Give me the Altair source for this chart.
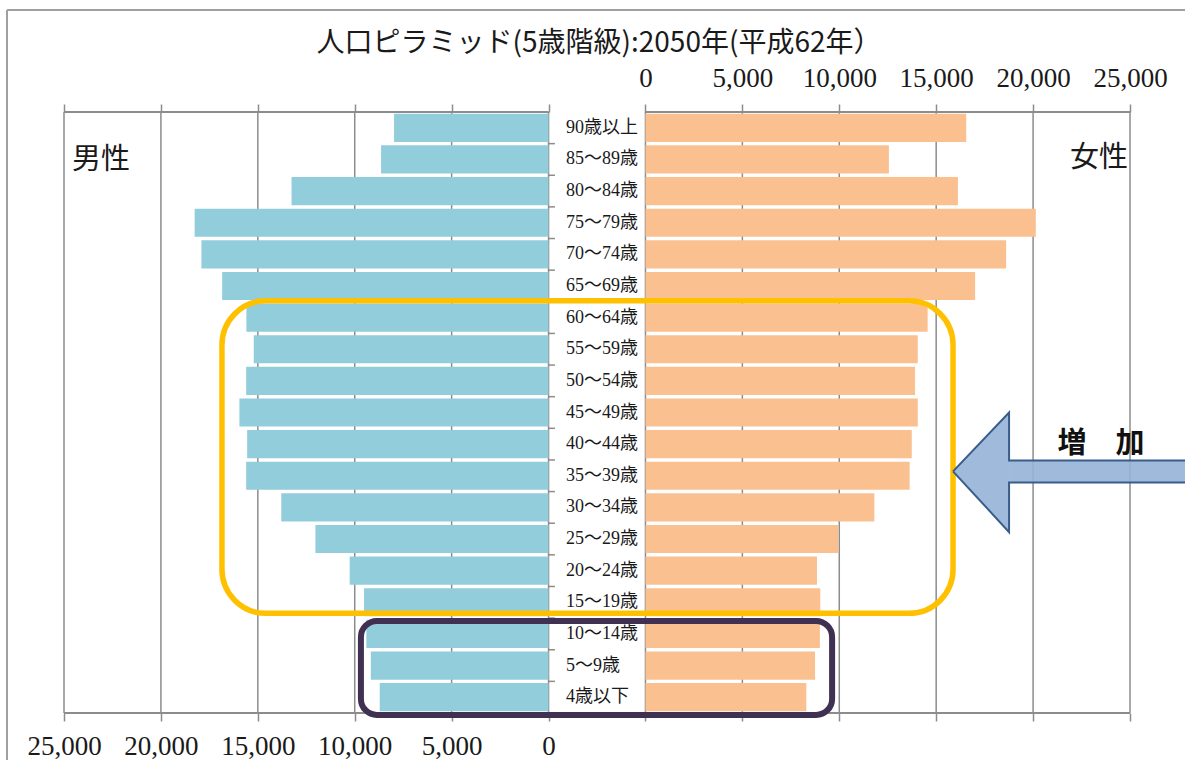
import altair as alt
import pandas as pd

# Age groups, top of the pyramid first
ages = [
    "90歳以上", "85～89歳", "80～84歳", "75～79歳", "70～74歳", "65～69歳",
    "60～64歳", "55～59歳", "50～54歳", "45～49歳", "40～44歳", "35～39歳",
    "30～34歳", "25～29歳", "20～24歳", "15～19歳", "10～14歳", "5～9歳", "4歳以下",
]
male = [7970, 8640, 13260, 18260, 17910, 16840, 15590, 15210, 15600, 15950,
        15550, 15600, 13790, 12030, 10260, 9520, 9400, 9170, 8710]
female = [16550, 12560, 16120, 20140, 18610, 17010, 14560, 14050, 13910, 14050,
          13740, 13630, 11810, 9950, 8850, 9020, 9000, 8750, 8300]
tick_values = [0, 5000, 10000, 15000, 20000, 25000]

TITLE = "人口ピラミッド(5歳階級):2050年(平成62年）"

# One shared x scale: men run left from 0, women run right from GAP,
# the centre column (GAP wide) holds the age labels.
GAP = 5000
N = len(ages)
X_MIN, X_MAX = -max(tick_values), GAP + max(tick_values)
BAR_PAD = 0.055
LABEL_X = 900

xs = alt.Scale(domain=[X_MIN, X_MAX], nice=False, zero=False)
ys = alt.Scale(domain=[0, N], nice=False, zero=False, reverse=True)


def X(field="x", **kw):
    return alt.X(f"{field}:Q", scale=xs, **({"axis": None} | kw))


def Y(field="y"):
    return alt.Y(f"{field}:Q", scale=ys, axis=None, stack=None)


bars = pd.DataFrame(
    [{"age": a, "sex": "男性", "x": -m, "x2": 0, "y": i + BAR_PAD, "y2": i + 1 - BAR_PAD}
     for i, (a, m) in enumerate(zip(ages, male))]
    + [{"age": a, "sex": "女性", "x": GAP, "x2": GAP + f, "y": i + BAR_PAD, "y2": i + 1 - BAR_PAD}
       for i, (a, f) in enumerate(zip(ages, female))]
)
labels = pd.DataFrame({"age": ages, "y": [i + 0.5 for i in range(N)], "x": LABEL_X})

grid_x = [-v for v in tick_values] + [GAP + v for v in tick_values]
grid = pd.DataFrame({"x": grid_x, "y": 0, "y2": N})
frame_h = pd.DataFrame({
    "x": [X_MIN, GAP, X_MIN, GAP],
    "x2": [0, X_MAX, 0, X_MAX],
    "y": [0, 0, N, N],
})
band_ticks = pd.DataFrame({"x": 0, "x2": 330, "y": list(range(1, N))})

GRID_COLOR = "#8c8c8c"
SERIF = "Liberation Serif, Noto Sans CJK JP"
SANS = "Noto Sans CJK JP"

axis_common = dict(
    values=sorted(grid_x), domain=False, grid=False, ticks=True,
    tickColor=GRID_COLOR, tickWidth=1.5, tickSize=8, title=None,
    labelFont="Liberation Serif", labelFontSize=27, labelColor="#1a1a1a",
    labelAngle=0, labelOverlap=False, labelFlush=False,
)
top_axis = alt.Axis(
    orient="top", labelPadding=12,
    labelExpr=f"datum.value >= {GAP} ? format(datum.value - {GAP}, ',') : ''",
    **axis_common,
)
bottom_axis = alt.Axis(
    orient="bottom", labelPadding=12,
    labelExpr="datum.value < 0 ? format(-datum.value, ',') : (datum.value == 0 ? '0' : '')",
    **axis_common,
)

gridlines = alt.Chart(grid).mark_rule(color=GRID_COLOR, strokeWidth=1.5).encode(
    x=X(), y=Y(), y2="y2:Q",
)
axis_lines = alt.Chart(frame_h).mark_rule(color=GRID_COLOR, strokeWidth=2).encode(
    x=X(), x2="x2:Q", y=Y(),
)
small_ticks = alt.Chart(band_ticks).mark_rule(color=GRID_COLOR, strokeWidth=1.5).encode(
    x=X(), x2="x2:Q", y=Y(),
)

male_bars = alt.Chart(bars[bars.sex == "男性"]).mark_rect(color="#92CDDC").encode(
    x=X(axis=bottom_axis), x2="x2:Q", y=Y(), y2="y2:Q",
)
female_bars = alt.Chart(bars[bars.sex == "女性"]).mark_rect(color="#FAC090").encode(
    x=X(axis=top_axis), x2="x2:Q", y=Y(), y2="y2:Q",
)
age_text = alt.Chart(labels).mark_text(
    align="left", baseline="middle", font=SERIF, fontSize=18, color="#1a1a1a"
).encode(x=X(), y=Y(), text="age:N")

# Highlight boxes around the working-age and child groups
boxes = pd.DataFrame([{"x": -16850, "x2": 20870, "y": 5.97, "y2": 15.85}])
kids = pd.DataFrame([{"x": -9680, "x2": 14630, "y": 16.09, "y2": 19.06}])
yellow_box = alt.Chart(boxes).mark_rect(
    fillOpacity=0, stroke="#FFC000", strokeWidth=5.5, cornerRadius=44, clip=False
).encode(x=X(), x2="x2:Q", y=Y(), y2="y2:Q")
purple_box = alt.Chart(kids).mark_rect(
    fillOpacity=0, stroke="#403152", strokeWidth=6, cornerRadius=16, clip=False
).encode(x=X(), x2="x2:Q", y=Y(), y2="y2:Q")

# Left-pointing block arrow: head (area) + shaft (rect) filled, then the outline
ARROW_FILL = "#95B3D7"
ARROW_EDGE = "#385D8A"
head = pd.DataFrame({"x": [20870, 23760], "y": [11.36, 9.5], "y2": [11.36, 13.28]})
shaft = pd.DataFrame([{"x": 23760, "x2": 34000, "y": 11.02, "y2": 11.71}])
outline = pd.DataFrame({
    "k": list(range(8)),
    "x": [20870, 23760, 23760, 34000, 34000, 23760, 23760, 20870],
    "y": [11.36, 9.5, 11.02, 11.02, 11.71, 11.71, 13.28, 11.36],
})
head_mark = alt.Chart(head).mark_area(
    color=ARROW_FILL, opacity=0.9, orient="vertical", interpolate="linear", clip=False
).encode(x=X(), y=Y(), y2="y2:Q")
shaft_mark = alt.Chart(shaft).mark_rect(color=ARROW_FILL, opacity=0.9, clip=False).encode(
    x=X(), x2="x2:Q", y=Y(), y2="y2:Q"
)
outline_mark = alt.Chart(outline).mark_line(
    color=ARROW_EDGE, strokeWidth=2, strokeJoin="miter", clip=False
).encode(x=X(), y=Y(), order="k:Q")

notes = pd.DataFrame([
    {"x": -23090, "y": 1.51, "t": "男性"},
    {"x": 28400, "y": 1.46, "t": "女性"},
])
note_text = alt.Chart(notes).mark_text(
    font=SANS, fontSize=29, color="#1a1a1a", align="center", baseline="middle", clip=False
).encode(x=X(), y=Y(), text="t:N")
incr = pd.DataFrame([{"x": 28500, "y": 10.5, "t": "増　加"}])
incr_text = alt.Chart(incr).mark_text(
    font=SANS, fontSize=29, fontWeight="bold", color="#111111",
    align="center", baseline="middle", clip=False,
).encode(x=X(), y=Y(), text="t:N")

title_df = pd.DataFrame([{"t": TITLE}])
title_text = alt.Chart(title_df).mark_text(
    font=SANS, fontSize=28, color="#1a1a1a", align="center", baseline="middle"
).encode(x=alt.value(535), y=alt.value(-68), text="t:N")

# Thin grey frame around the figure
frame_df = pd.DataFrame([{"k": 0}])
frame_top = alt.Chart(frame_df).mark_rule(color="#a0a0a0", strokeWidth=2).encode(
    x=alt.value(-57), x2=alt.value(1130), y=alt.value(-102)
)
frame_left = alt.Chart(frame_df).mark_rule(color="#a0a0a0", strokeWidth=2).encode(
    x=alt.value(-57), y=alt.value(-102), y2=alt.value(660)
)

chart = alt.layer(
    gridlines, axis_lines, small_ticks, male_bars, female_bars, age_text,
    yellow_box, purple_box, head_mark, shaft_mark, outline_mark,
    note_text, incr_text, title_text, frame_top, frame_left,
).resolve_axis(x="independent").properties(
    width=1066, height=601,
    padding={"left": 64, "top": 112, "right": 55, "bottom": 47},
    autosize=alt.AutoSizeParams(type="none"),
    background="white",
).configure_view(stroke=None)

chart.save("out.html", embed_options={"renderer": "svg", "actions": False})
